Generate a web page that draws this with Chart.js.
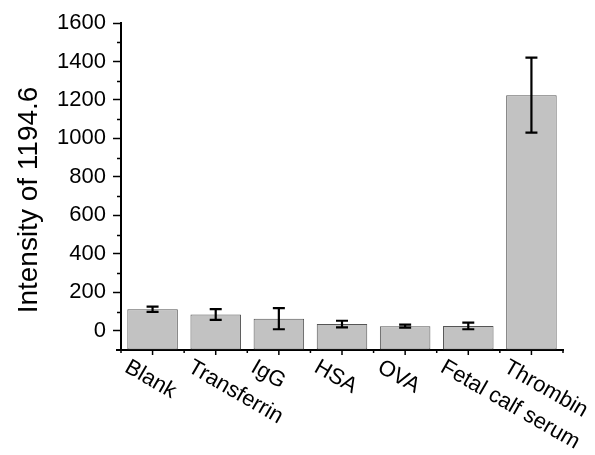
<!DOCTYPE html>
<html>
<head>
<meta charset="utf-8">
<script src="https://cdn.jsdelivr.net/npm/chart.js@4"></script>
<style>
  body { margin: 0; background: #fff; }
  canvas { display: block; }
</style>
</head>
<body>
<canvas id="chart" width="595" height="455"></canvas>
<script>
// data
var categories = ['Blank', 'Transferrin', 'IgG', 'HSA', 'OVA', 'Fetal calf serum', 'Thrombin']
var intensity = [112, 85, 63, 35, 24, 25, 1225]
var errors = [14, 28, 55, 17, 8, 17, 195]
var yTitle = 'Intensity of 1194.6'

var FONT = '"Liberation Sans", Arial, sans-serif'

// error bars, minor ticks, rotated labels and axis title
var extras = {
    id: 'extras',
    afterDatasetsDraw: function (chart) {
        var ctx = chart.ctx
        var y = chart.scales.y
        var bars = chart.getDatasetMeta(0).data
        ctx.save()
        ctx.strokeStyle = '#000'
        ctx.lineWidth = 2.2
        bars.forEach(function (bar, i) {
            var top = y.getPixelForValue(intensity[i] + errors[i])
            var bot = y.getPixelForValue(intensity[i] - errors[i])
            ctx.beginPath()
            ctx.moveTo(bar.x, top); ctx.lineTo(bar.x, bot)
            ctx.moveTo(bar.x - 6, top); ctx.lineTo(bar.x + 6, top)
            ctx.moveTo(bar.x - 6, bot); ctx.lineTo(bar.x + 6, bot)
            ctx.stroke()
        })
        ctx.restore()
    },
    afterDraw: function (chart) {
        var ctx = chart.ctx
        var x = chart.scales.x
        var y = chart.scales.y
        var area = chart.chartArea
        ctx.save()
        ctx.strokeStyle = '#000'
        ctx.lineWidth = 1.5
        // minor y ticks
        for (var v = 100; v < 1600; v += 200) {
            var py = Math.round(y.getPixelForValue(v)) + 0.5
            ctx.beginPath()
            ctx.moveTo(area.left - 4, py); ctx.lineTo(area.left, py)
            ctx.stroke()
        }
        // x ticks: longer at centres, short between categories
        var step = (area.right - area.left) / categories.length
        for (var i = 0; i <= categories.length * 2; i++) {
            var px = area.left + i * step / 2
            ctx.beginPath()
            ctx.moveTo(px, area.bottom); ctx.lineTo(px, area.bottom + (i % 2 ? 5 : 3))
            ctx.stroke()
        }
        // small stub of x axis left of the y axis
        ctx.lineWidth = 2
        ctx.beginPath()
        ctx.moveTo(area.left - 5, area.bottom); ctx.lineTo(area.left, area.bottom)
        ctx.stroke()

        // rotated category labels
        ctx.fillStyle = '#000'
        ctx.font = '22px ' + FONT
        ctx.textAlign = 'left'
        ctx.textBaseline = 'alphabetic'
        categories.forEach(function (c, i) {
            ctx.save()
            ctx.translate(x.getPixelForValue(i) - 29, area.bottom + 21)
            ctx.rotate(Math.PI / 6)
            ctx.fillText(c, 0, 0)
            ctx.restore()
        })

        // y axis title
        ctx.font = '28px ' + FONT
        ctx.textAlign = 'center'
        ctx.translate(37, 200)
        ctx.rotate(-Math.PI / 2)
        ctx.fillText(yTitle, 0, 0)
        ctx.restore()
    }
}

var chart = new Chart(document.getElementById('chart').getContext('2d'), {
    type: 'bar',
    data: {
        labels: categories,
        datasets: [{
            data: intensity,
            base: -100,
            backgroundColor: '#c2c2c2',
            borderColor: '#555555',
            borderWidth: 1,
            borderSkipped: false,
            barPercentage: 0.8,
            categoryPercentage: 1
        }]
    },
    options: {
        responsive: false,
        devicePixelRatio: 1,
        animation: false,
        layout: { padding: { top: 23, right: 32, left: 0, bottom: 0 } },
        plugins: { legend: { display: false }, tooltip: { enabled: false } },
        scales: {
            x: {
                grid: { display: false },
                border: { display: true, color: '#000', width: 2 },
                ticks: { display: false },
                afterFit: function (s) { s.height = 105 }
            },
            y: {
                min: -100,
                max: 1600,
                grid: {
                    drawOnChartArea: false,
                    tickLength: 8,
                    tickWidth: 1.5,
                    tickColor: function (c) {
                        var v = c.tick && c.tick.value
                        return (v >= 0 && v % 200 === 0) ? '#000' : 'rgba(0,0,0,0)'
                    }
                },
                border: { display: true, color: '#000', width: 2 },
                ticks: {
                    stepSize: 100,
                    autoSkip: false,
                    padding: 7,
                    color: '#000',
                    font: { family: FONT, size: 22 },
                    callback: function (v) { return (v >= 0 && v % 200 === 0) ? v : '' }
                },
                afterFit: function (s) { s.width = 121 }
            }
        }
    },
    plugins: [extras]
})
</script>
</body>
</html>
